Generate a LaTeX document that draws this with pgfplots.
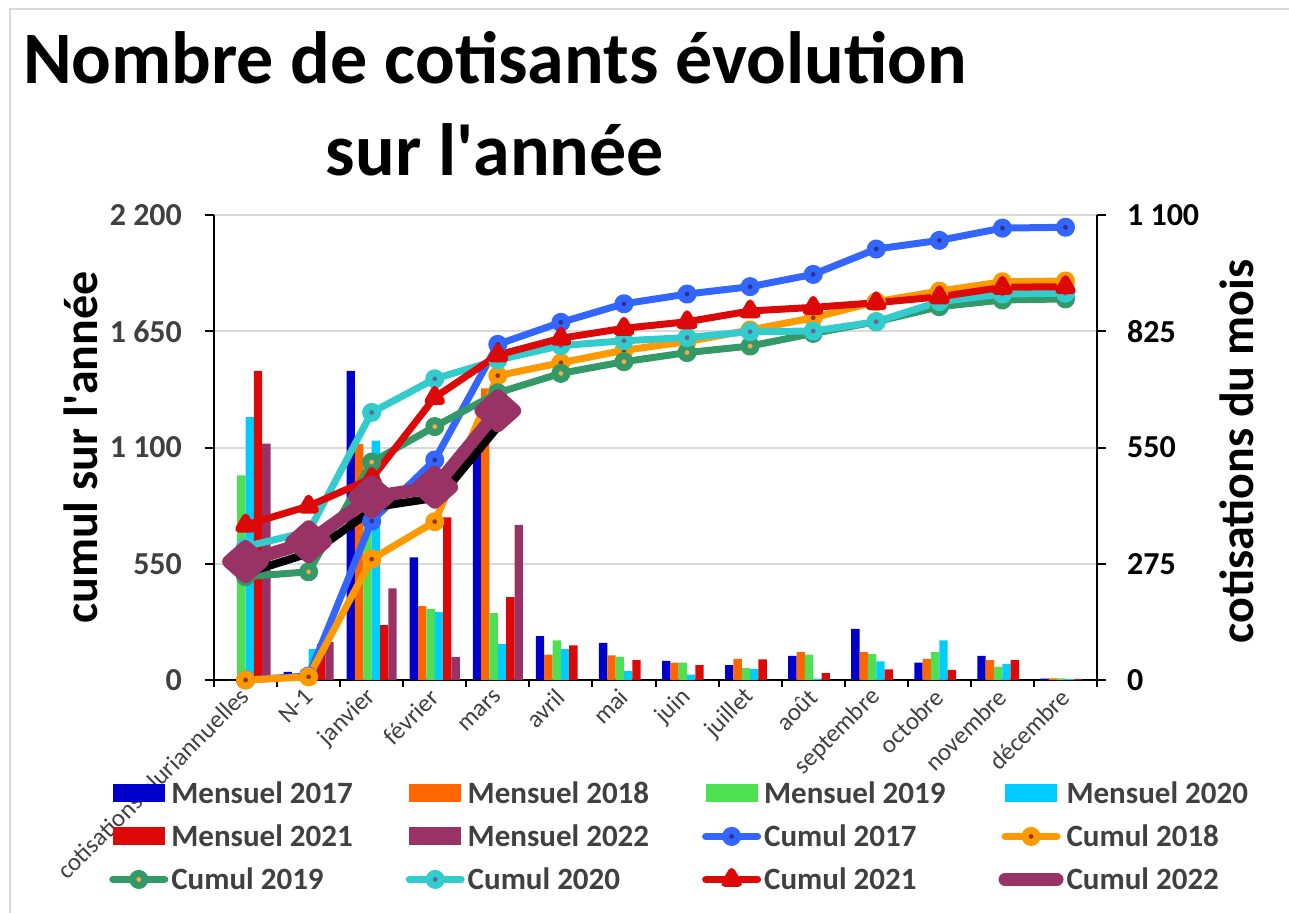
\documentclass[border=0pt]{standalone}
\usepackage{fontspec}
\setmainfont{Carlito}
\usepackage{pgfplots}
\pgfplotsset{compat=1.18}
\usepackage{pgfplotstable}

\definecolor{mA}{HTML}{0000CC}
\definecolor{mB}{HTML}{FF6600}
\definecolor{mC}{HTML}{4CE052}
\definecolor{mD}{HTML}{00CCFF}
\definecolor{mE}{HTML}{DD0808}
\definecolor{mF}{HTML}{993366}
\definecolor{lA}{HTML}{3366FF}
\definecolor{kA}{HTML}{2E3192}
\definecolor{lB}{HTML}{FF9900}
\definecolor{kB}{HTML}{993300}
\definecolor{lC}{HTML}{339966}
\definecolor{kC}{HTML}{FFA64D}
\definecolor{lD}{HTML}{33CCCC}
\definecolor{kD}{HTML}{666699}
\definecolor{lE}{HTML}{DD0808}
\definecolor{kE}{HTML}{DC3545}
\definecolor{lF}{HTML}{993366}
\definecolor{gridgray}{HTML}{D9D9D9}
\definecolor{txtgray}{HTML}{404040}

\pgfplotstableread{
x m17 m18 m19 m20 m21 m22
0 0 0 484 622 731 559
1 19 15 25 73 85 90
2 731 558 519 566 130 217
3 290 175 168 161 385 54
4 547 690 158 85 196 367
5 104 60 94 73 82 0
6 88 58 55 21 47 0
7 45 41 41 13 35 0
8 35 50 28 26 49 0
9 57 66 60 3 16 0
10 121 66 61 44 25 0
11 41 50 66 94 24 0
12 57 47 31 38 47 0
13 3 4 4 2 2 0
}\bars

\pgfplotstableread{
x c17 c18 c19 c20 c21
0 0 0 489 631 733
1 19 15 512 702 823
2 752 572 1031 1266 954
3 1041 749 1199 1425 1337
4 1588 1440 1359 1514 1538
5 1692 1501 1451 1582 1617
6 1780 1560 1506 1605 1664
7 1826 1601 1549 1620 1695
8 1861 1656 1580 1648 1746
9 1919 1714 1640 1651 1763
10 2039 1790 1695 1695 1785
11 2080 1840 1766 1790 1813
12 2138 1884 1798 1826 1858
13 2142 1888 1803 1830 1861
}\cumul

\pgfplotstableread{
x c22
0 560
1 654
2 867
3 912
4 1274
}\cumulb

\pgfplotsset{
  barlegend/.style={legend image code/.code={\fill[##1, draw=none] (0pt,-4.5pt) rectangle (26pt,4.5pt);}},
  linelegend/.style={legend image code/.code={\draw[mark repeat=2,mark phase=2,##1] plot coordinates {(0pt,0pt) (13pt,0pt) (26pt,0pt)};}},
  linelegendnomark/.style={legend image code/.code={\draw[##1,mark=none] plot coordinates {(0pt,0pt) (26pt,0pt)};}},
}

\begin{document}
\begin{tikzpicture}
\useasboundingbox (-107pt,-116pt) rectangle (537.5pt,340pt);
\draw[gridgray, line width=1pt] (-102pt,-130pt) -- (-102pt,335.5pt) -- (560pt,335.5pt);

\node[font=\fontsize{37}{40}\selectfont\bfseries, anchor=base] at (140.5pt,298.3pt) {Nombre de cotisants évolution};
\node[font=\fontsize{37}{40}\selectfont\bfseries, anchor=base] at (140.5pt,252.5pt) {sur l\textquotesingle année};

% monthly bars, right axis
\begin{axis}[
  at={(0,0)}, anchor=south west,
  scale only axis, width=441.5pt, height=232.5pt,
  xmin=-0.5, xmax=13.5, ymin=0, ymax=1100,
  axis y line*=right, axis x line*=bottom,
  axis line style={black, line width=1pt},
  ybar=0pt, bar width=4.17pt,
  xtick={0,...,13},
  xticklabels={cotisations pluriannuelles,N-1,janvier,février,mars,avril,mai,juin,juillet,août,septembre,octobre,novembre,décembre},
  major x tick style={draw=none},
  minor xtick={-0.5,0.5,...,13.5},
  minor x tick style={black, line width=1pt},
  minor tick length=3.5pt,
  tick align=outside,
  major tick length=4.5pt,
  ytick={0,275,550,825,1100},
  yticklabels={0,275,550,825,1 100},
  major y tick style={black, line width=1pt},
  ymajorgrids, grid style={gridgray, line width=1pt},
  xticklabel style={rotate=45, anchor=east, font=\fontsize{12.5}{14}\selectfont, text=txtgray, yshift=-1.5pt, xshift=2pt},
  yticklabel style={font=\fontsize{16}{18}\selectfont\bfseries, text=black, xshift=7pt},
  ylabel={cotisations du mois},
  ylabel style={at={(axis description cs:1.158,0.491)}, anchor=center, font=\fontsize{24}{26}\selectfont\bfseries},
]
\addplot[fill=mA, draw=none] table[x=x,y=m17]{\bars};
\addplot[fill=mB, draw=none] table[x=x,y=m18]{\bars};
\addplot[fill=mC, draw=none] table[x=x,y=m19]{\bars};
\addplot[fill=mD, draw=none] table[x=x,y=m20]{\bars};
\addplot[fill=mE, draw=none] table[x=x,y=m21]{\bars};
\addplot[fill=mF, draw=none] table[x=x,y=m22]{\bars};
\end{axis}

% cumulative lines, left axis
\begin{axis}[
  at={(0,0)}, anchor=south west,
  scale only axis, width=441.5pt, height=232.5pt,
  xmin=-0.5, xmax=13.5, ymin=0, ymax=2200,
  axis y line*=left, axis x line=none,
  axis line style={black, line width=1pt},
  clip=false,
  tick align=outside,
  major tick length=4.5pt,
  ytick={0,550,1100,1650,2200},
  yticklabels={0,550,1 100,1 650,2 200},
  major y tick style={black, line width=1pt},
  yticklabel style={font=\fontsize{16}{18}\selectfont\bfseries, text=txtgray, xshift=-8pt},
  ylabel={cumul sur l\textquotesingle année},
  ylabel style={at={(axis description cs:-0.151,0.5)}, anchor=center, font=\fontsize{24}{26}\selectfont\bfseries},
  linelegend,
  legend columns=4,
  legend style={
    at={(axis description cs:-0.119,-0.1968)}, anchor=north west,
    draw=none, fill=none, inner sep=0pt, row sep=0pt,
    font=\fontsize{15.5}{18}\selectfont\bfseries, text=txtgray,
    nodes={inner xsep=0pt, inner ysep=2.75pt, text height=13pt, text depth=3pt},
    /tikz/every even column/.append style={column sep=26.5pt},
    /tikz/every odd column/.append style={column sep=1.5pt},
  },
  legend cell align=left,
  every axis plot/.append style={line join=round, line cap=round},
]
\addlegendimage{barlegend, fill=mA}
\addlegendimage{barlegend, fill=mB}
\addlegendimage{barlegend, fill=mC}
\addlegendimage{barlegend, fill=mD}
\addlegendimage{barlegend, fill=mE}
\addlegendimage{barlegend, fill=mF}
\addplot[lA, line width=3.5pt, mark=*, mark size=3pt, mark options={draw=none, fill=kA}] table[x=x,y=c17]{\cumul};
\addplot[lB, line width=3.5pt, mark=*, mark size=3pt, mark options={draw=none, fill=kB}] table[x=x,y=c18]{\cumul};
\addplot[lC, line width=3.5pt, mark=*, mark size=3pt, mark options={draw=none, fill=kC}] table[x=x,y=c19]{\cumul};
\addplot[lD, line width=3.5pt, mark=*, mark size=3pt, mark options={draw=none, fill=kD}] table[x=x,y=c20]{\cumul};
\addplot[lE, line width=3.5pt, mark=triangle*, mark size=4pt, mark options={draw=none, fill=kE}] table[x=x,y=c21]{\cumul};
\addplot[black, line width=4pt, forget plot, xshift=2.5pt, yshift=-5pt] table[x=x,y=c22]{\cumulb};
\addplot[lF, line width=6.5pt, mark=diamond*, mark size=7.5pt, mark options={draw=none, fill=lF, xscale=1.5}, linelegendnomark] table[x=x,y=c22]{\cumulb};
\legend{Mensuel 2017,Mensuel 2018,Mensuel 2019,Mensuel 2020,Mensuel 2021,Mensuel 2022,Cumul 2017,Cumul 2018,Cumul 2019,Cumul 2020,Cumul 2021,Cumul 2022}
\end{axis}
\end{tikzpicture}
\end{document}
